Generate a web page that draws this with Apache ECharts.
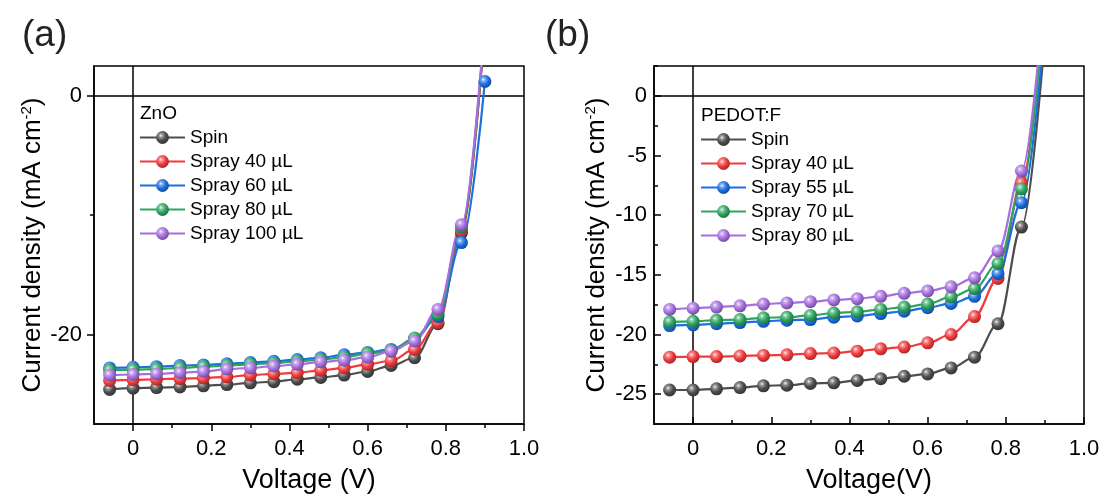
<!DOCTYPE html>
<html>
<head>
<meta charset="utf-8">
<script src="https://cdn.jsdelivr.net/npm/echarts@6/dist/echarts.min.js"></script>
<style>
html,body{margin:0;padding:0;background:#fff;}
#chart{width:1104px;height:499px;}
</style>
</head>
<body>
<div id="chart"></div>
<script>
// ---- data ----
const voltage = [-0.06, 0, 0.06, 0.12, 0.18, 0.24, 0.30, 0.36, 0.42, 0.48, 0.54, 0.60, 0.66, 0.72, 0.78, 0.84, 0.90];

const namesA = ['Spin', 'Spray 40 µL', 'Spray 60 µL', 'Spray 80 µL', 'Spray 100 µL'];
const spinA     = [-24.6, -24.5, -24.45, -24.4, -24.3, -24.2, -24.05, -23.95, -23.75, -23.6, -23.4, -23.1, -22.6, -21.95, -19.1, -11.5, 6.0];
const spray40A  = [-23.85, -23.8, -23.75, -23.7, -23.65, -23.55, -23.4, -23.3, -23.2, -23.0, -22.8, -22.5, -22.2, -21.25, -19.0, -11.3, 6.0];
const spray60A  = [-22.8, -22.75, -22.7, -22.6, -22.55, -22.45, -22.35, -22.25, -22.1, -21.95, -21.7, -21.5, -21.25, -20.4, -18.5, -12.3, 1.2];
const spray80A  = [-23.0, -22.95, -22.9, -22.8, -22.7, -22.6, -22.5, -22.4, -22.25, -22.1, -21.9, -21.6, -21.35, -20.3, -18.3, -11.0, 6.2];
const spray100A = [-23.4, -23.35, -23.3, -23.2, -23.1, -22.9, -22.8, -22.65, -22.5, -22.3, -22.15, -21.9, -21.4, -20.55, -17.9, -10.8, 6.5];

const namesB = ['Spin', 'Spray 40 µL', 'Spray 55 µL', 'Spray 70 µL', 'Spray 80 µL'];
const spinB    = [-24.65, -24.65, -24.55, -24.45, -24.3, -24.25, -24.1, -24.05, -23.85, -23.7, -23.5, -23.3, -22.8, -21.9, -19.1, -11.0, 5.0];
const spray40B = [-21.9, -21.85, -21.85, -21.8, -21.75, -21.7, -21.6, -21.55, -21.4, -21.2, -21.05, -20.7, -20.0, -18.5, -15.3, -7.3, 8.0];
const spray55B = [-19.25, -19.2, -19.1, -19.0, -18.9, -18.8, -18.75, -18.55, -18.45, -18.25, -18.05, -17.75, -17.4, -16.8, -14.9, -8.95, 6.0];
const spray70B = [-18.95, -18.9, -18.8, -18.75, -18.6, -18.55, -18.4, -18.2, -18.1, -17.9, -17.7, -17.45, -16.85, -16.15, -14.05, -7.8, 8.0];
const spray80B = [-17.9, -17.8, -17.7, -17.6, -17.45, -17.35, -17.25, -17.1, -17.0, -16.8, -16.55, -16.35, -16.0, -15.25, -13.0, -6.3, 9.0];

// tick values
const xLabelTicks = [0, 0.2, 0.4, 0.6, 0.8, 1.0];
const xMinorTicks = [0.1, 0.3, 0.5, 0.7, 0.9];
const yLabelTicksA = [0, -20];
const yMinorTicksA = [-10];
const yLabelTicksB = [0, -5, -10, -15, -20, -25];
const yMinorTicksB = [2.5, -2.5, -7.5, -12.5, -17.5, -22.5];

const colorsA = ['#4d4d4d', '#f03a3c', '#1b6fe0', '#2ea55f', '#a66fdf'];
const colorsB = ['#4d4d4d', '#f03a3c', '#1b6fe0', '#2ea55f', '#a66fdf'];
const seriesA = [spinA, spray40A, spray60A, spray80A, spray100A];
const seriesB = [spinB, spray40B, spray55B, spray70B, spray80B];

// ---- build ----
const FONT = 'Liberation Sans, Arial, sans-serif';
function shade(hex, f) {
  const n = parseInt(hex.slice(1), 16);
  let r = (n >> 16) & 255, g = (n >> 8) & 255, b = n & 255;
  if (f < 0) { r = Math.round(r * (1 + f)); g = Math.round(g * (1 + f)); b = Math.round(b * (1 + f)); }
  else { r = Math.round(r + (255 - r) * f); g = Math.round(g + (255 - g) * f); b = Math.round(b + (255 - b) * f); }
  return 'rgb(' + r + ',' + g + ',' + b + ')';
}
function ball(c) {
  return new echarts.graphic.RadialGradient(0.38, 0.35, 0.7, [
    { offset: 0, color: '#ffffff' },
    { offset: 0.18, color: shade(c, 0.45) },
    { offset: 0.55, color: c },
    { offset: 1, color: shade(c, -0.35) }
  ]);
}
function mkSeries(name, vals, color, idx, withMark) {
  const s = {
    type: 'line', name: name,
    xAxisIndex: idx, yAxisIndex: idx,
    data: voltage.map((v, i) => [v, vals[i]]),
    smooth: 0.35, smoothMonotone: 'x',
    symbol: 'circle', symbolSize: 13, showSymbol: true,
    lineStyle: { color: color, width: 2.2 },
    itemStyle: { color: ball(color), borderWidth: 0 },
    emphasis: { disabled: true },
    clip: true, z: 3
  };
  if (withMark) {
    s.markLine = {
      silent: true, symbol: 'none', label: { show: false },
      lineStyle: { color: '#000', width: 1.5, type: 'solid' },
      emphasis: { disabled: true },
      data: [{ xAxis: 0 }, { yAxis: 0 }], z: 1
    };
  }
  return s;
}
const series = [];
seriesA.forEach((d, i) => series.push(mkSeries(namesA[i], d, colorsA[i], 0, i === 0)));
seriesB.forEach((d, i) => series.push(mkSeries(namesB[i] + ' ', d, colorsB[i], 2, i === 0)));
// dummy series binding minor-tick axes
series.push({ type: 'line', data: [], xAxisIndex: 1, yAxisIndex: 1, silent: true });
series.push({ type: 'line', data: [], xAxisIndex: 3, yAxisIndex: 3, silent: true });

function xMain(grid, inside, name) {
  return {
    type: 'value', gridIndex: grid, min: -0.1, max: 1.0, position: 'bottom',
    name: name, nameLocation: 'middle', nameGap: 43,
    nameTextStyle: { fontFamily: FONT, fontSize: 27, color: '#000' },
    axisLine: { show: true, onZero: false, lineStyle: { color: '#000', width: 1.5 } },
    axisTick: { show: true, inside: inside, length: 7, customValues: xLabelTicks, lineStyle: { color: '#000', width: 1.5 } },
    axisLabel: { show: true, customValues: xLabelTicks, margin: 14, fontFamily: FONT, fontSize: 22, color: '#000',
      formatter: v => (Math.abs(v) < 1e-9 ? '0' : v.toFixed(1)) },
    splitLine: { show: false }
  };
}
function xMinor(grid, inside) {
  return {
    type: 'value', gridIndex: grid, min: -0.1, max: 1.0, position: 'bottom',
    axisLine: { show: false, onZero: false },
    axisTick: { show: true, inside: inside, length: 4, customValues: xMinorTicks, lineStyle: { color: '#000', width: 1.5 } },
    axisLabel: { show: false }, splitLine: { show: false }
  };
}
const yName = 'Current density (mA cm{sup|-2})';
function yMain(grid, inside, labels, gap, margin) {
  return {
    type: 'value', gridIndex: grid, min: -27.5, max: 2.5, position: 'left',
    name: yName, nameLocation: 'middle', nameGap: gap,
    nameTextStyle: { fontFamily: FONT, fontSize: 26, color: '#000',
      rich: { sup: { fontFamily: FONT, fontSize: 15, color: '#000', verticalAlign: 'bottom', padding: [0, 0, 12, 0] } } },
    axisLine: { show: true, onZero: false, lineStyle: { color: '#000', width: 1.5 } },
    axisTick: { show: true, inside: inside, length: 7, customValues: labels, lineStyle: { color: '#000', width: 1.5 } },
    axisLabel: { show: true, customValues: labels, margin: margin, fontFamily: FONT, fontSize: 22, color: '#000' },
    splitLine: { show: false }
  };
}
function yMinor(grid, inside, ticks) {
  return {
    type: 'value', gridIndex: grid, min: -27.5, max: 2.5, position: 'left',
    axisLine: { show: false, onZero: false },
    axisTick: { show: true, inside: inside, length: 4, customValues: ticks, lineStyle: { color: '#000', width: 1.5 } },
    axisLabel: { show: false }, splitLine: { show: false }
  };
}

const legendCommon = {
  orient: 'vertical', itemWidth: 45, itemHeight: 16, itemGap: 5,
  textStyle: { fontFamily: FONT, fontSize: 19, color: '#000' },
  formatter: n => n.trim(), selectedMode: false
};

const option = {
  animation: false,
  backgroundColor: '#fff',
  title: [
    { text: '(a)', left: 17, top: 12, textStyle: { fontFamily: FONT, fontSize: 37, fontWeight: 'normal', color: '#222' } },
    { text: '(b)', left: 540, top: 12, textStyle: { fontFamily: FONT, fontSize: 37, fontWeight: 'normal', color: '#222' } },
    { text: 'ZnO', left: 135, top: 99, textStyle: { fontFamily: FONT, fontSize: 19, fontWeight: 'normal', color: '#000' } },
    { text: 'PEDOT:F', left: 696, top: 101, textStyle: { fontFamily: FONT, fontSize: 19, fontWeight: 'normal', color: '#000' } }
  ],
  grid: [
    { left: 94, top: 66, width: 430, height: 361, show: true, borderColor: '#000', borderWidth: 1.5, backgroundColor: 'transparent' },
    { left: 654, top: 66, width: 430, height: 361, show: true, borderColor: '#000', borderWidth: 1.5, backgroundColor: 'transparent' }
  ],
  xAxis: [xMain(0, false, 'Voltage (V)'), xMinor(0, false), xMain(1, true, 'Voltage(V)'), xMinor(1, true)],
  yAxis: [yMain(0, false, yLabelTicksA, 47, 12), yMinor(0, false, yMinorTicksA), yMain(1, true, yLabelTicksB, 44, 7), yMinor(1, true, yMinorTicksB)],
  legend: [
    Object.assign({ left: 134, top: 123, data: namesA }, legendCommon),
    Object.assign({ left: 695, top: 125, data: namesB.map(n => n + ' ') }, legendCommon)
  ],
  series: series
};

const chart = echarts.init(document.getElementById('chart'), null, { renderer: 'canvas' });
chart.setOption(option);
</script>
</body>
</html>
